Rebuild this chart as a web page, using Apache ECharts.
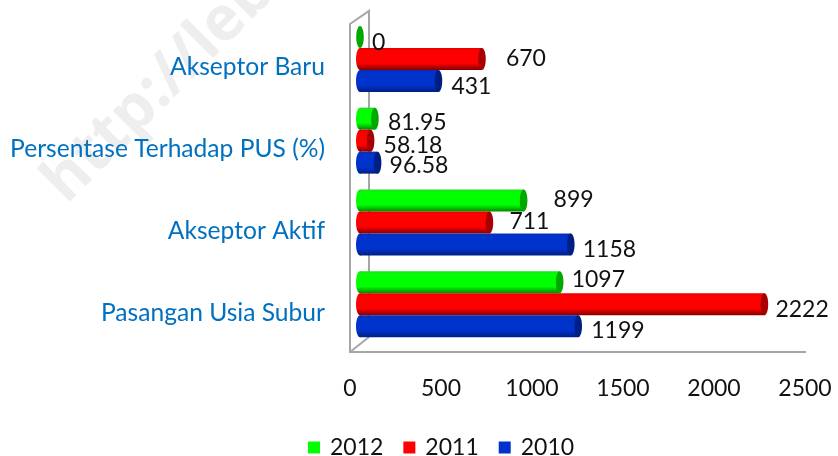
<!DOCTYPE html>
<html>
<head>
<meta charset="utf-8">
<style>html,body{margin:0;padding:0;background:#fff}#main{width:838px;height:456px}</style>
<script src="https://cdn.jsdelivr.net/npm/echarts@6/dist/echarts.min.js"></script>
</head>
<body>
<div id="main"></div>
<script>
var categories = ['Pasangan Usia Subur', 'Akseptor Aktif', 'Persentase Terhadap PUS (%)', 'Akseptor Baru'];
var years = ['2012', '2011', '2010'];
var values2012 = [1097, 899, 81.95, 0];
var values2011 = [2222, 711, 58.18, 670];
var values2010 = [1199, 1158, 96.58, 431];
var axisTicks = [0, 500, 1000, 1500, 2000, 2500];

var font = 'Lato';
var barWidth = 22;

// label shift from the bar end, same order as the categories
var labelShift2012 = [[12, -3], [30, -1], [13, 4], [12, 6]];
var labelShift2011 = [[11, 5], [20, -1], [13, 5], [24, 0]];
var labelShift2010 = [[13, 4], [12, 5], [12, 3], [13, 6]];

function tube(top, mid, bottom) {
	return {
		type: 'linear', x: 0, y: 0, x2: 0, y2: 1,
		colorStops: [
			{offset: 0, color: top},
			{offset: 0.15, color: mid},
			{offset: 0.7, color: mid},
			{offset: 1, color: bottom}
		]
	};
}

function barSeries(name, data, shift, fill) {
	return {
		name: name,
		type: 'bar',
		xAxisIndex: 0,
		yAxisIndex: 0,
		barWidth: barWidth,
		barGap: 0,
		z: 3,
		itemStyle: {color: fill},
		data: data.map(function (v, i) {
			return {
				value: v,
				label: {
					show: true,
					position: 'right',
					distance: 0,
					offset: shift[i],
					formatter: String(v),
					color: '#111',
					fontFamily: font,
					fontSize: 23
				}
			};
		})
	};
}

// round ends of the tubes, left one lit and right one shaded
function capSeries(data, offsetIdx, fill, capColor) {
	return {
		type: 'custom',
		xAxisIndex: 0,
		yAxisIndex: 0,
		z: 4,
		silent: true,
		data: data.map(function (v, i) { return [v, i]; }),
		renderItem: function (params, api) {
			var p = api.coord([api.value(0), api.value(1)]);
			var start = api.coord([0, api.value(1)]);
			var y = p[1] + offsetIdx * barWidth;
			var kids = [];
			if (api.value(0) > 0) {
				kids.push({type: 'ellipse', shape: {cx: start[0], cy: y, rx: 4, ry: barWidth / 2}, style: {fill: fill}});
			}
			kids.push({type: 'ellipse', shape: {cx: p[0], cy: y, rx: 3.8, ry: barWidth / 2}, style: {fill: capColor}});
			return {type: 'group', children: kids};
		}
	};
}

var greenFill = tube('#22dd22', '#00ff00', '#008a00');
var redFill = tube('#e00000', '#ff0000', '#850000');
var blueFill = tube('#0a2fb0', '#0033cc', '#001f85');

var chart = echarts.init(document.getElementById('main'), null, {renderer: 'canvas'});
chart.setOption({
	backgroundColor: '#fff',
	animation: false,
	legend: {
		data: [
			{name: years[0], itemStyle: {color: '#00ff00'}},
			{name: years[1], itemStyle: {color: '#ff0000'}},
			{name: years[2], itemStyle: {color: '#0033cc'}}
		],
		left: 308,
		top: 436,
		padding: 0,
		icon: 'rect',
		itemWidth: 12,
		itemHeight: 12,
		itemGap: 20,
		textStyle: {color: '#111', fontFamily: font, fontSize: 23, padding: [0, 0, 0, 5]}
	},
	grid: [
		{left: 360, width: 455, top: 18, height: 327},
		{left: 350, width: 455, top: 26.5, height: 327}
	],
	xAxis: [
		{
			type: 'value', gridIndex: 0, min: 0, max: 2500, interval: 500,
			axisLine: {show: false}, axisTick: {show: false}, axisLabel: {show: false}, splitLine: {show: false}
		},
		{
			type: 'value', gridIndex: 1, min: axisTicks[0], max: axisTicks[axisTicks.length - 1], interval: 500,
			axisLine: {show: false}, axisTick: {show: false}, splitLine: {show: false},
			axisLabel: {color: '#111', fontFamily: font, fontSize: 23, margin: 24, formatter: function (v) { return String(v); }}
		}
	],
	yAxis: [
		{
			type: 'category', gridIndex: 0, data: categories,
			axisLine: {show: false}, axisTick: {show: false}, axisLabel: {show: false}
		},
		{
			type: 'category', gridIndex: 1, data: categories,
			axisLine: {show: false}, axisTick: {show: false},
			axisLabel: {color: '#0070c0', fontFamily: font, fontSize: 24.6, margin: 25, interval: 0}
		}
	],
	graphic: [
		{
			type: 'text', left: 32, top: -67, rotation: Math.PI / 4, z: 0, silent: true,
			style: {text: 'http://lebo', fill: '#eeeeee', font: 'bold 62px "Open Sans"'}
		},
		{
			type: 'polyline', z: 1, silent: true,
			shape: {points: [[369, 337], [369, 11], [350, 24], [350, 352], [806, 352]]},
			style: {stroke: '#a6a6a6', lineWidth: 2, fill: null}
		},
		{
			type: 'line', z: 1, silent: true,
			shape: {x1: 350, y1: 352, x2: 369, y2: 337},
			style: {stroke: '#a6a6a6', lineWidth: 2}
		}
	],
	series: [
		barSeries('2012', values2012, labelShift2012, greenFill),
		barSeries('2011', values2011, labelShift2011, redFill),
		barSeries('2010', values2010, labelShift2010, blueFill),
		capSeries(values2010, 1, blueFill, '#001f85'),
		capSeries(values2011, 0, redFill, '#a80000'),
		capSeries(values2012, -1, greenFill, '#00a800')
	]
});
</script>
</body>
</html>
